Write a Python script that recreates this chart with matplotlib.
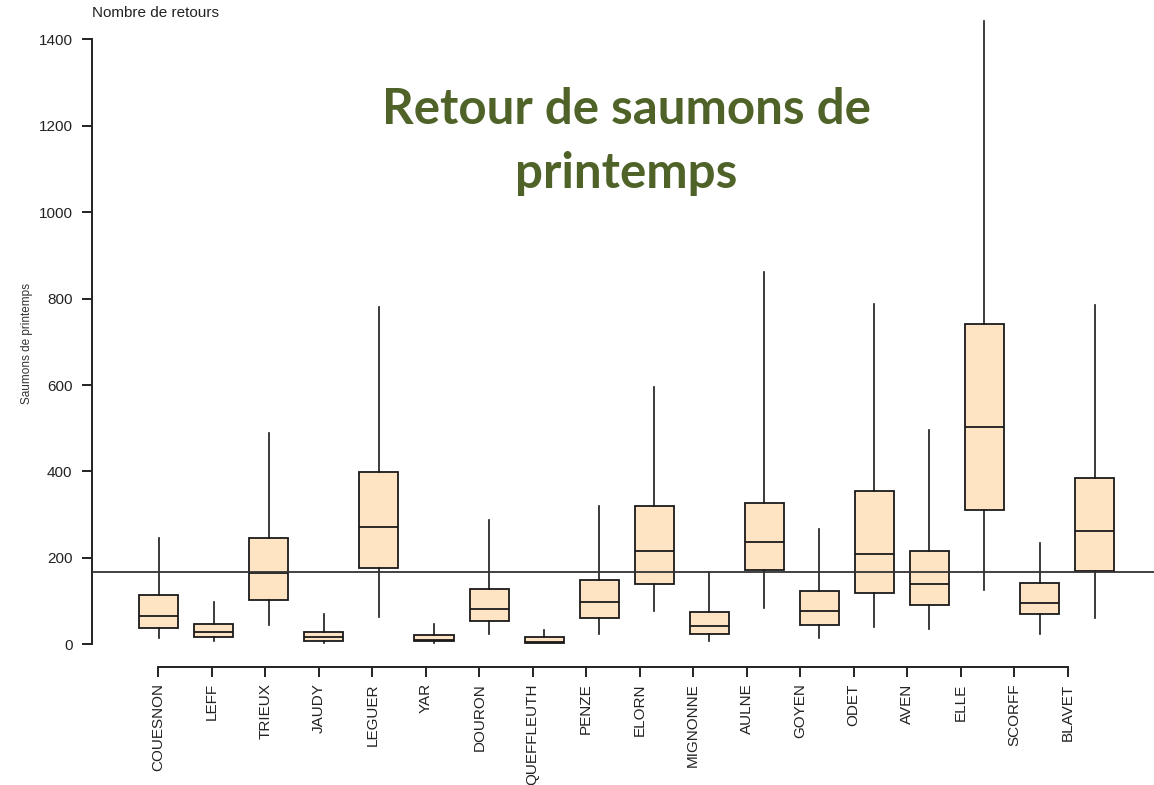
import matplotlib
matplotlib.use("Agg")
import matplotlib.pyplot as plt

rivers = ["COUESNON", "LEFF", "TRIEUX", "JAUDY", "LEGUER", "YAR", "DOURON",
          "QUEFFLEUTH", "PENZE", "ELORN", "MIGNONNE", "AULNE", "GOYEN",
          "ODET", "AVEN", "ELLE", "SCORFF", "BLAVET"]
whislo = [15, 8, 44, 3, 64, 3, 24, 2, 24, 77, 7, 85, 15, 39, 35, 126, 24, 60]
q1 = [37, 16, 103, 8, 176, 7, 53, 4, 62, 139, 25, 171, 45, 118, 91, 311, 70, 169]
med = [65, 29, 166, 16, 271, 10, 82, 6, 98, 217, 42, 237, 78, 209, 139, 504, 95, 263]
q3 = [115, 46, 245, 29, 399, 21, 128, 17, 148, 320, 74, 328, 123, 355, 217, 741, 143, 384]
whishi = [247, 99, 489, 71, 780, 46, 288, 33, 321, 596, 167, 862, 267, 787, 496, 1442, 234, 786]
reference = 168
yticks = [0, 200, 400, 600, 800, 1000, 1200, 1400]

W, H = 1154, 785
fig = plt.figure(figsize=(W / 100, H / 100), dpi=100)
plt.rcParams['font.family'] = ['Liberation Sans', 'DejaVu Sans']

ax = fig.add_axes([92 / W, 1 - 666.7 / H, 1 - 92 / W, 666.7 / H])
ax.patch.set_visible(False)

stats = []
for i, name in enumerate(rivers):
    stats.append(dict(label=name, whislo=whislo[i], q1=q1[i], med=med[i],
                      q3=q3[i], whishi=whishi[i], fliers=[]))

positions = list(range(len(rivers)))
ax.bxp(stats, positions=positions, widths=0.71, patch_artist=True,
       showcaps=False, showfliers=False,
       boxprops=dict(facecolor='#FFE4C4', edgecolor='#1a1a1a', linewidth=1.3),
       medianprops=dict(color='#1a1a1a', linewidth=1.3),
       whiskerprops=dict(color='#1a1a1a', linewidth=1.2))

ax.axhline(reference, color='#333333', linewidth=1.3, zorder=5)

ax.set_xlim(-1.213, 18.08)
ax.set_ylim(-51.8, 1491.1)

for s in ['top', 'right', 'bottom']:
    ax.spines[s].set_visible(False)
ax.spines['left'].set_bounds(0, 1400)
ax.spines['left'].set_linewidth(1.4)
ax.spines['left'].set_color('#222222')
ax.set_yticks(yticks)
ax.set_yticklabels([str(v) for v in yticks])
ax.tick_params(axis='y', length=7, width=1.4, pad=7, labelsize=11,
               colors='#222222')
ax.set_xticks([])

# tick labels axis (slightly different spacing as in reference)
ax2 = ax.twiny()
ax2.set_xlim(-1.2395, 18.614)
ax2.patch.set_visible(False)
for s in ['top', 'right', 'left']:
    ax2.spines[s].set_visible(False)
ax2.spines['bottom'].set_visible(True)
ax2.spines['bottom'].set_bounds(0, len(rivers) - 1)
ax2.spines['bottom'].set_linewidth(1.4)
ax2.spines['bottom'].set_color('#222222')
ax2.xaxis.set_ticks_position('bottom')
ax2.xaxis.set_label_position('bottom')
ax2.set_xticks(positions)
ax2.set_xticklabels(rivers, rotation=90, fontsize=11, color='#222222')
ax2.tick_params(axis='x', length=7, width=1.4, pad=5, colors='#222222')

fig.text(27 / W, 1 - 343 / H, "Saumons de printemps", rotation=90,
         ha='center', va='center', fontsize=8.5, color='#333333')
fig.text(92 / W, 1 - 17 / H, "Nombre de retours", ha='left',
         va='baseline', fontsize=11, color='#222222')

title_color = '#4F6228'
fig.text(626 / W, 1 - 124 / H, "Retour de saumons de", ha='center',
         va='baseline', fontsize=35.5, fontweight='bold', color=title_color,
         family=['Lato', 'DejaVu Sans'])
fig.text(626 / W, 1 - 188 / H, "printemps", ha='center',
         va='baseline', fontsize=35.5, fontweight='bold', color=title_color,
         family=['Lato', 'DejaVu Sans'])

fig.savefig("out.png", dpi=100)
